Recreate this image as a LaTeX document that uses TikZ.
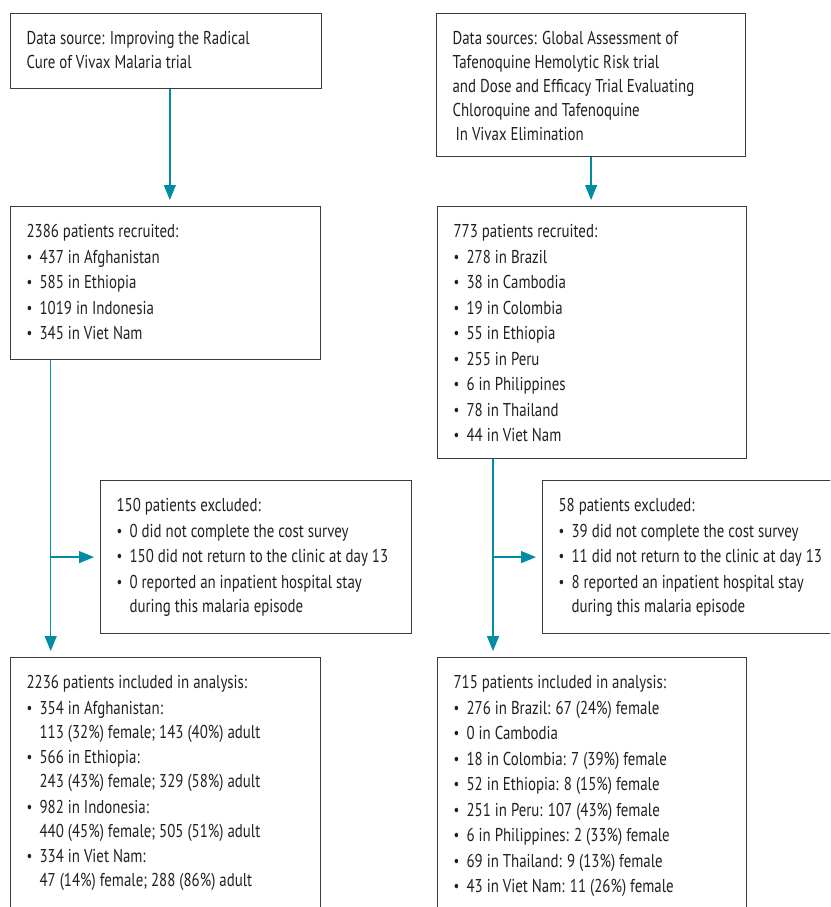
\documentclass[tikz,border=0pt]{standalone}
\usepackage{fontspec}
\setmainfont[FakeStretch=0.80]{PT Sans}
\usetikzlibrary{arrows.meta}
\definecolor{flowteal}{RGB}{0,140,162}
\definecolor{boxgray}{RGB}{60,60,60}
\definecolor{inkgray}{RGB}{35,31,32}
% text inside a box: fixed width and height, set from the top
\newcommand{\boxtext}[3]{\parbox[t][#2][t]{#1}{\raggedright #3}}
% one bullet item
\newcommand{\itm}{\par\vspace{1.5pt}\hangindent=13pt\hangafter=1\noindent
  \makebox[13pt][l]{\fontsize{16pt}{16pt}\selectfont\raisebox{1pt}{•}}}
\tikzset{
	flowbox/.style={draw=boxgray, line width=1.2pt, anchor=north west,
		inner xsep=16pt, inner ysep=18pt, text=inkgray,
		font=\fontsize{18.6pt}{24pt}\selectfont},
	flowarrow/.style={draw=flowteal, line width=1.3pt,
		-{Triangle[length=15pt,width=12pt]}, shorten >=6pt},
}
\begin{document}
\begin{tikzpicture}[x=1pt,y=-1pt]
	\useasboundingbox (0,0) rectangle (830,907);
	\clip (0,0) rectangle (830,907);
	
	% data sources
	\node[flowbox] (srcL) at (10,12.7) {\boxtext{278.5pt}{39.5pt}{%
		Data source: Improving the Radical\\
		Cure of Vivax Malaria trial}};
	\node[flowbox] (srcR) at (436,12.7) {\boxtext{277pt}{107pt}{%
		Data sources: Global Assessment of\\
		Tafenoquine Hemolytic Risk trial\\
		and Dose and Efficacy Trial Evaluating\\
		Chloroquine and Tafenoquine\\
		\hspace*{3pt}In Vivax Elimination}};
	
	% recruited
	\node[flowbox] (recL) at (10,206) {\boxtext{278pt}{117pt}{%
		2386 patients recruited:
		\itm 437 in Afghanistan
		\itm 585 in Ethiopia
		\itm 1019 in Indonesia
		\itm 345 in Viet Nam}};
	\node[flowbox] (recR) at (437,206) {\boxtext{277pt}{216pt}{%
		773 patients recruited:
		\itm 278 in Brazil
		\itm 38 in Cambodia
		\itm 19 in Colombia
		\itm 55 in Ethiopia
		\itm 255 in Peru
		\itm 6 in Philippines
		\itm 78 in Thailand
		\itm 44 in Viet Nam}};
	
	% excluded
	\node[flowbox] (excL) at (100,480) {\boxtext{279pt}{117pt}{%
		150 patients excluded:
		\itm 0 did not complete the cost survey
		\itm 150 did not return to the clinic at day 13
		\itm 0 reported an inpatient hospital stay\newline
		during this malaria episode}};
	\node[flowbox] (excR) at (542,480) {\boxtext{280pt}{117pt}{%
		58 patients excluded:
		\itm 39 did not complete the cost survey
		\itm 11 did not return to the clinic at day 13
		\itm 8 reported an inpatient hospital stay\newline
		during this malaria episode}};
	
	% included
	\node[flowbox] (incL) at (10,657) {\boxtext{278pt}{234pt}{%
		2236 patients included in analysis:
		\itm 354 in Afghanistan:\newline
		113 (32\%) female; 143 (40\%) adult
		\itm 566 in Ethiopia:\newline
		243 (43\%) female; 329 (58\%) adult
		\itm 982 in Indonesia:\newline
		440 (45\%) female; 505 (51\%) adult
		\itm 334 in Viet Nam:\newline
		47 (14\%) female; 288 (86\%) adult}};
	\node[flowbox] (incR) at (437,657) {\boxtext{277pt}{234pt}{%
		715 patients included in analysis:
		\itm 276 in Brazil: 67 (24\%) female
		\itm 0 in Cambodia
		\itm 18 in Colombia: 7 (39\%) female
		\itm 52 in Ethiopia: 8 (15\%) female
		\itm 251 in Peru: 107 (43\%) female
		\itm 6 in Philippines: 2 (33\%) female
		\itm 69 in Thailand: 9 (13\%) female
		\itm 43 in Viet Nam: 11 (26\%) female}};
	
	% connectors
	\draw[flowarrow] ([xshift=4pt]srcL.south) -- ([xshift=4pt]srcL.south |- recL.north);
	\draw[flowarrow] (srcR.south) -- (srcR.south |- recR.north);
	
	\coordinate (trunkL) at ([xshift=40.7pt]recL.south west);
	\coordinate (trunkR) at ([xshift=56pt]recR.south west);
	\draw[flowarrow] (trunkL) -- (trunkL |- incL.north);
	\draw[flowarrow] (trunkL |- excL.west) -- (excL.west);
	\draw[flowarrow] (trunkR) -- (trunkR |- incR.north);
	\draw[flowarrow] (trunkR |- excR.west) -- (excR.west);
\end{tikzpicture}
\end{document}
